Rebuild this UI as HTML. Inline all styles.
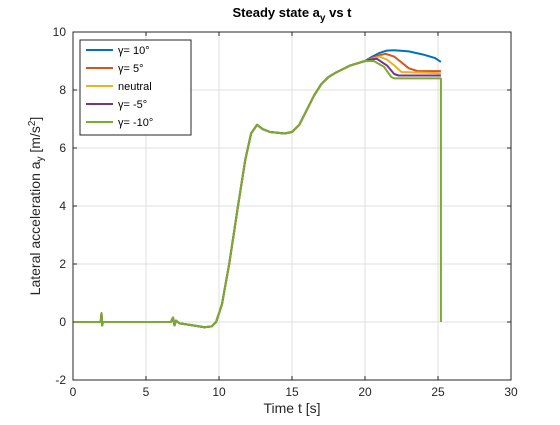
<!DOCTYPE html>
<html><head><meta charset="utf-8"><style>
body{margin:0;background:#fff;font-family:"Liberation Sans",sans-serif}
svg text{font-family:"Liberation Sans",sans-serif}
</style></head><body>
<svg id="c" width="560" height="420">
<rect x="0" y="0" width="560" height="420" fill="#fff"/>
<g id="grid"></g><g id="ticks"></g><g id="series"></g>
<rect x="73" y="32" width="438" height="348" fill="none" stroke="#262626" stroke-width="1"/>
<text x="292" y="17" text-anchor="middle" font-size="13" font-weight="bold" fill="#000">Steady state a<tspan dy="4" font-size="10">y</tspan><tspan dy="-4"> vs t</tspan></text>
<text x="292" y="413" text-anchor="middle" font-size="14" fill="#262626">Time t [s]</text>
<text transform="translate(40,206) rotate(-90)" text-anchor="middle" font-size="14" fill="#262626">Lateral acceleration a<tspan dy="3" font-size="10">y</tspan><tspan dy="-3"> [m/s</tspan><tspan dy="-5" font-size="10">2</tspan><tspan dy="5">]</tspan></text>
<g id="legend"></g>
</svg>
<script>
const xTicks=[0,5,10,15,20,25,30];
const yTicks=[-2,0,2,4,6,8,10];
const seriesNames=["γ= 10°","γ= 5°","neutral","γ= -5°","γ= -10°"];
const seriesColors=["#0072bd","#d95319","#edb120","#7e2f8e","#77ac30"];
const baseT=[0,1.9,1.95,2.0,2.05,6.7,6.85,6.95,7.05,7.3,8,9,9.5,9.8,10.2,10.7,11.3,11.8,12.2,12.6,13,13.5,14.5,15,15.5,16,16.5,17,17.5,18,19,20];
const baseY=[0,0,0.3,-0.12,0,0,0.15,-0.12,0.05,-0.05,-0.1,-0.18,-0.15,0,0.6,2,4,5.6,6.5,6.8,6.65,6.55,6.5,6.55,6.8,6.8,7.8,8.2,8.45,8.6,8.85,9.0];
baseY[24]=6.8;baseY[25]=7.3;
const tailT10=[20.5,21,21.5,22,23,24,24.8,25.2,25.2];
const tailY10=[9.15,9.28,9.36,9.37,9.33,9.22,9.1,8.97,8.97];
const tailT5=[20.5,21,21.4,22,22.5,23,23.6,25.2,25.2];
const tailY5=[9.1,9.2,9.25,9.15,8.95,8.75,8.65,8.65,8.65];
const tailT0=[20.5,21,21.5,22,22.5,25.2,25.2];
const tailY0=[9.08,9.15,9.05,8.85,8.62,8.58,8.58];
const tailTm5=[20.4,20.8,21.5,22,22.3,25.2,25.2];
const tailYm5=[9.05,9.08,8.85,8.55,8.5,8.5,8.5];
const tailTm10=[20.3,20.6,21.3,21.8,22,25.2,25.2,25.2];
const tailYm10=[9.0,9.0,8.8,8.45,8.4,8.4,8.4,0];
const tails=[[tailT10,tailY10],[tailT5,tailY5],[tailT0,tailY0],[tailTm5,tailYm5],[tailTm10,tailYm10]];
const X=t=>73+(t-0)/30*438, Y=v=>380-(v+2)/12*348;
const NS="http://www.w3.org/2000/svg";
function mk(tag,a,parent){const e=document.createElementNS(NS,tag);for(const k in a)e.setAttribute(k,a[k]);parent.appendChild(e);return e;}
const grid=document.getElementById('grid'),ticks=document.getElementById('ticks');
xTicks.forEach(t=>{
 const g=mk('line',{x1:X(t),x2:X(t),y1:32,y2:380,stroke:'#dfdfdf','stroke-width':1},grid);
 
 
 mk('line',{x1:X(t),x2:X(t),y1:380,y2:376,stroke:'#262626'},ticks);
 mk('line',{x1:X(t),x2:X(t),y1:32,y2:36,stroke:'#262626'},ticks);
 const l=mk('text',{x:X(t),y:396,'text-anchor':'middle','font-size':12,fill:'#262626'},ticks);
 l.textContent=t;
 
 
});
yTicks.forEach(v=>{
 const g=mk('line',{x1:73,x2:511,y1:Y(v),y2:Y(v),stroke:'#dfdfdf','stroke-width':1},grid);
 
 
 mk('line',{x1:73,x2:77,y1:Y(v),y2:Y(v),stroke:'#262626'},ticks);
 mk('line',{x1:511,x2:507,y1:Y(v),y2:Y(v),stroke:'#262626'},ticks);
 const l=mk('text',{x:66,y:Y(v)+4,'text-anchor':'end','font-size':12,fill:'#262626'},ticks);
 l.textContent=v;
 
 
});
const sg=document.getElementById('series');
tails.forEach((tl,i)=>{
 const ts=baseT.concat(tl[0]), ys=baseY.concat(tl[1]);
 const d=ts.map((t,j)=>(j?'L':'M')+X(t).toFixed(1)+','+Y(ys[j]).toFixed(1)).join('');
 const p=mk('path',{d:d,fill:'none',stroke:seriesColors[i],'stroke-width':2,'stroke-linejoin':'round'},sg);
 
 
});
const lg=document.getElementById('legend');
mk('rect',{x:80,y:40,width:111,height:95,fill:'#fff',stroke:'#262626','stroke-width':1},lg);
seriesNames.forEach((n,i)=>{
 const y=50+i*18;
 const ln=mk('line',{x1:86,x2:113,y1:y,y2:y,stroke:seriesColors[i],'stroke-width':2},lg);
 
 
 const t=mk('text',{x:118,y:y+4,'font-size':11,fill:'#000'},lg);
 t.textContent=n;
 
 
});
</script>
</body></html>
